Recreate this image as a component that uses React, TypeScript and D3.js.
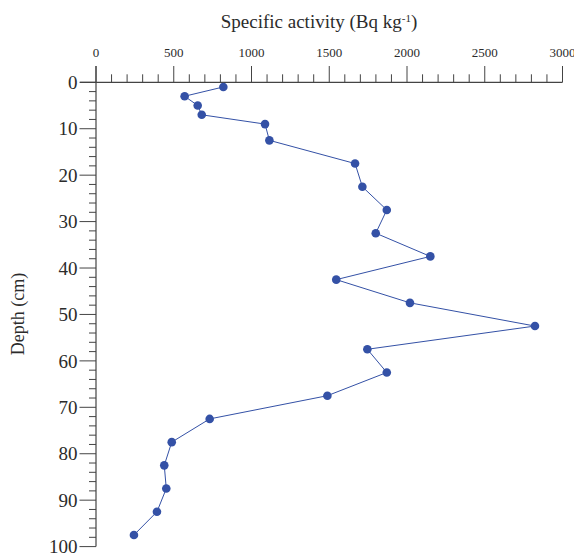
import React from "react";
import * as d3 from "d3";

const depths = [1, 3, 5, 7, 9, 12.5, 17.5, 22.5, 27.5, 32.5, 37.5, 42.5, 47.5, 52.5, 57.5, 62.5, 67.5, 72.5, 77.5, 82.5, 87.5, 92.5, 97.5];
const activity = [819, 570, 654, 680, 1087, 1115, 1666, 1713, 1870, 1799, 2150, 1545, 2019, 2823, 1745, 1870, 1488, 731, 487, 439, 452, 392, 244];
const xTickLabels = [0, 500, 1000, 1500, 2000, 2500, 3000];
const yTickLabels = [0, 10, 20, 30, 40, 50, 60, 70, 80, 90, 100];

const W = 574;
const H = 554;
const FONT = "'Liberation Serif', 'Times New Roman', serif";
const AX = "#444";
const TXT = "#2b2b2b";
const DOT = "#3451a6";

export default function App() {
  const x = d3.scaleLinear().domain([0, 3000]).range([96, 562.5]);
  const y = d3.scaleLinear().domain([0, 100]).range([82.3, 546.6]);
  const data = depths.map((d, i) => ({ d, v: activity[i] }));
  const line = d3
    .line<{ d: number; v: number }>()
    .x((p) => x(p.v))
    .y((p) => y(p.d));

  const xMinor = d3.range(0, 3001, 100);
  const yMinor = d3.range(0, 101, 2);

  return (
    <div style={{ position: "absolute", left: 0, top: 0 }}>
      <svg width={W} height={H} style={{ display: "block" }}>
        <rect width={W} height={H} fill="#fff" />
        {/* title */}
        <text x={319} y={28} textAnchor="middle" fontFamily={FONT} fontSize={19} fill={TXT}>
          Specific activity (Bq kg
          <tspan dy={-6} fontSize={11}>-1</tspan>
          <tspan dy={6}>)</tspan>
        </text>
        {/* x axis */}
        <line x1={80} x2={x(3000)} y1={y(0)} y2={y(0)} stroke={AX} strokeWidth={1.2} />
        {xMinor.map((v) => {
          const major = v % 500 === 0;
          return (
            <line
              key={"xt" + v}
              x1={x(v)}
              x2={x(v)}
              y1={y(0)}
              y2={y(0) - (major ? 16.3 : 8)}
              stroke={AX}
              strokeWidth={1}
            />
          );
        })}
        {xTickLabels.map((v) => (
          <text key={"xl" + v} x={x(v)} y={57} textAnchor="middle" fontFamily={FONT} fontSize={13} fill={TXT}>
            {v}
          </text>
        ))}
        {/* y axis */}
        <line x1={x(0)} x2={x(0)} y1={y(0) - 16.3} y2={y(100)} stroke={AX} strokeWidth={1.2} />
        {yMinor.map((v) => {
          const major = v % 10 === 0;
          return (
            <line
              key={"yt" + v}
              x1={x(0)}
              x2={x(0) - (major ? 16.5 : 7)}
              y1={y(v)}
              y2={y(v)}
              stroke={AX}
              strokeWidth={1}
            />
          );
        })}
        {yTickLabels.map((v) => (
          <text
            key={"yl" + v}
            x={77.5}
            y={y(v)}
            dy="0.35em"
            textAnchor="end"
            fontFamily={FONT}
            fontSize={19}
            fill={TXT}
          >
            {v}
          </text>
        ))}
        <text
          transform={`translate(24,314) rotate(-90)`}
          textAnchor="middle"
          fontFamily={FONT}
          fontSize={18}
          fill={TXT}
        >
          Depth (cm)
        </text>
        {/* data */}
        <path d={line(data) || ""} fill="none" stroke={DOT} strokeWidth={1} />
        {data.map((p, i) => (
          <circle key={"c" + i} cx={x(p.v)} cy={y(p.d)} r={4.3} fill={DOT} />
        ))}
      </svg>
    </div>
  );
}
